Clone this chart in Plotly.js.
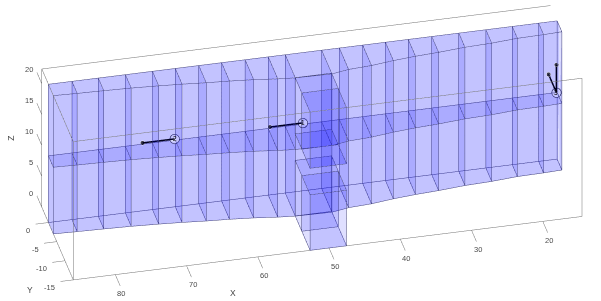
<!DOCTYPE html>
<html><head><meta charset="utf-8">
<script src="https://cdn.plot.ly/plotly-3.0.1.min.js"></script>
<style>html,body{margin:0;padding:0;background:#fff}#c{width:601px;height:301px}</style>
</head><body><div id="c"></div>
<script>
// Data
var stationX = [85.9,82.6,78.9,75.1,71.3,68.1,64.8,61.6,58.3,55.05,52.66,47.55,45.07,41.8,38.6,35.4,32.1,28.3,24.5,20.8,17.1,14.5];
var stationW = [2.97,3.15,3.3,3.5,3.8,4.1,4.5,4.8,5.2,5.75,6.05,6.2,5.6,5.34,4.79,4.4,4.14,3.7,3.5,3.1,3.0,2.85];
var zTop = 22.4, zPlate = 10.8;
var bumpX = [47.55,52.66], bumpY = [-6,-10,-15];
var bumpLowZ = [0,9], bumpHighZ = [13.3,22.4];
var xBox = [14.5,85.9], yBox = [-15,4], zBox = [0,22.4];
var xTicks = [20,30,40,50,60,70,80], yTicks = [-15,-10,-5,0], zTicks = [0,5,10,15,20];
var pt1 = {x:[54.8,50.2], y:[0,0], z:[11,11]};
var pt2 = {x:[72.7,68.2], y:[0,0], z:[11,11]};
var pt3a = {x:[14.6,14.6], y:[0,0], z:[15.3,10.8]};
var pt3b = {x:[15.7,14.6], y:[0,0], z:[13.9,10.8]};
var circleX = [50.2,68.2,14.6], circleZ = [11,11,10.8], circleLabels = ['1','2','3'];
var xTickLen=3, yTickLen=1.8, zTickLen=3;

var mx=[],my=[],mz=[],ii=[],jj=[],kk=[];
function quad(p){var n=mx.length;p.forEach(function(q){mx.push(-q[0]);my.push(q[1]);mz.push(q[2]);});
  ii.push(n,n);jj.push(n+1,n+2);kk.push(n+2,n+3);}
var ex=[],ey=[],ez=[];
function seg(a,b){ex.push(-a[0],-b[0],null);ey.push(a[1],b[1],null);ez.push(a[2],b[2],null);}
function rect(p){for(var i=0;i<4;i++)seg(p[i],p[(i+1)%4]);}
function face(p){quad(p);rect(p);}
var xa=stationX[0], xb=stationX[stationX.length-1];
quad([[xa,0,0],[xb,0,0],[xb,0,zTop],[xa,0,zTop]]);
seg([xa,0,0],[xb,0,0]);seg([xa,0,zTop],[xb,0,zTop]);seg([xa,0,zPlate],[xb,0,zPlate]);
stationX.forEach(function(x,i){
  var w=-stationW[i];
  face([[x,0,0],[x,w,0],[x,w,zTop],[x,0,zTop]]);
  seg([x,0,zPlate],[x,w,zPlate]);
  if(i<stationX.length-1){
    var x2=stationX[i+1],w2=-stationW[i+1];
    quad([[x,w,0],[x2,w2,0],[x2,w2,zTop],[x,w,zTop]]);
    quad([[x,0,0],[x2,0,0],[x2,w2,0],[x,w,0]]);
    quad([[x,0,zTop],[x2,0,zTop],[x2,w2,zTop],[x,w,zTop]]);
    quad([[x,0,zPlate],[x2,0,zPlate],[x2,w2,zPlate],[x,w,zPlate]]);
    seg([x,w,0],[x2,w2,0]);seg([x,w,zTop],[x2,w2,zTop]);seg([x,w,zPlate],[x2,w2,zPlate]);
  }
});
[bumpLowZ,bumpHighZ].forEach(function(zz){
  var xl=bumpX[0],xr=bumpX[1],y0=bumpY[0],y1=bumpY[1],y2=bumpY[2];
  face([[xl,y1,zz[0]],[xr,y1,zz[0]],[xr,y1,zz[1]],[xl,y1,zz[1]]]);
  face([[xl,y2,zz[0]],[xr,y2,zz[0]],[xr,y2,zz[1]],[xl,y2,zz[1]]]);
  [zz[0],zz[1]].forEach(function(z){
    face([[xl,y0,z],[xr,y0,z],[xr,y2,z],[xl,y2,z]]);
  });
  [xl,xr].forEach(function(x){rect([[x,y0,zz[0]],[x,y2,zz[0]],[x,y2,zz[1]],[x,y0,zz[1]]]);});
});
var X0=xBox[1],X1=xBox[0],Y0=yBox[0],Y1=yBox[1],Z1=zBox[1];
var boxLines=[
 [[X0,Y0,0],[X1,Y0,0]],[[X0,Y0,0],[X0,Y1,0]],[[X0,Y1,0],[X0,Y1,Z1]],[[X0,Y0,0],[X0,Y0,Z1]],[[X1,Y0,0],[X1,Y0,Z1]],
 [[X0,Y1,Z1],[X1,Y1,Z1]],[[X1,Y1,Z1],[X1,Y0,Z1]],[[X1,Y0,Z1],[X0,Y0,Z1]],[[X0,Y0,Z1],[X0,Y1,Z1]]];
var bx=[],by=[],bz=[];
boxLines.forEach(function(l){bx.push(-l[0][0],-l[1][0],null);by.push(l[0][1],l[1][1],null);bz.push(l[0][2],l[1][2],null);});
// tick marks through the same 3D scales
var tx=[],ty=[],tz=[];
xTicks.forEach(function(v){tx.push(-v,-v,null);ty.push(Y0,Y0-xTickLen,null);tz.push(0,0,null);});
yTicks.forEach(function(v){tx.push(-X0,-X0-yTickLen,null);ty.push(v,v,null);tz.push(0,0,null);});
zTicks.forEach(function(v){tx.push(-X0,-X0,null);ty.push(Y1,Y1+zTickLen,null);tz.push(v,v,null);});

var traces=[
 {type:'mesh3d',x:mx,y:my,z:mz,i:ii,j:jj,k:kk,color:'rgb(0,0,255)',opacity:0.125,flatshading:true,hoverinfo:'skip',
  lighting:{ambient:1,diffuse:0,specular:0,roughness:1,fresnel:0},showscale:false},
 {type:'scatter3d',mode:'lines',x:ex,y:ey,z:ez,line:{color:'rgb(60,60,120)',width:1},hoverinfo:'skip',showlegend:false},
 {type:'scatter3d',mode:'lines',x:bx,y:by,z:bz,line:{color:'rgb(115,115,115)',width:1},hoverinfo:'skip',showlegend:false},
 {type:'scatter3d',mode:'lines',x:tx,y:ty,z:tz,line:{color:'rgb(115,115,115)',width:1},hoverinfo:'skip',showlegend:false}
];
[pt1,pt2,pt3a,pt3b].forEach(function(p){
 traces.push({type:'scatter3d',mode:'lines+markers',x:p.x.map(function(v){return -v;}),y:p.y,z:p.z,
  line:{color:'#000',width:3},marker:{color:'#000',size:[5,0.1]},hoverinfo:'skip',showlegend:false});
});
traces.push({type:'scatter3d',mode:'markers',x:circleX.map(function(v){return -v;}),y:[0,0,0],z:circleZ,
  marker:{color:'#fff',size:5.5,line:{color:'#000',width:2}},hoverinfo:'skip',showlegend:false});

var cosT=0.8438, sinT=0.5367, cosP=-0.2263, sinP=-0.9741;
var k=0.0486, R=6, S=151;
var rightV=[-sinP,cosP,0], upV=[-sinT*cosP,-sinT*sinP,cosT];
var dir=[cosT*cosP,cosT*sinP,sinT];
var shiftX=5, shiftY=7;
var c={x:-(shiftX*rightV[0]+shiftY*upV[0])/S,y:-(shiftX*rightV[1]+shiftY*upV[1])/S,z:-(shiftX*rightV[2]+shiftY*upV[2])/S};
var gray='rgb(75,75,75)', fam='Liberation Sans';
var xRange=[-X0-yTickLen,-X1], yRange=[Y0-xTickLen,Y1+zTickLen], zRange=[0,Z1];
function axis(ticks,rng){return {range:rng,tickmode:'array',tickvals:ticks,showticklabels:false,showgrid:false,zeroline:false,showline:false,
 showbackground:false,showspikes:false,ticks:'',title:{text:''}};}
var ann=[];
function label(x,y,z,t,xa,xs,ys,sz,col,ang){ann.push({x:x,y:y,z:z,text:t,showarrow:false,xanchor:xa,yanchor:'middle',xshift:xs,yshift:ys,
 font:{family:fam,size:sz||7.5,color:col||gray},textangle:ang||0});}
xTicks.forEach(function(v){label(-v,Y0,0,String(v),'center',6,-19);});
yTicks.forEach(function(v){label(-X0,v,0,String(v),'right',-16,-8);});
zTicks.forEach(function(v){label(-X0,Y1,v,String(v),'right',-6.6,14);});
label(-65,Y0,0,'X','center',10.7,-32,8.5);
label(-X0,Y0,0,'Y','center',-43.3,-10,8.5);
label(-X0,Y1,10,'Z','center',-31.6,7,8.5,gray,-90);
circleLabels.forEach(function(t,i){label(-circleX[i],0,circleZ[i],t,'center',0,0,6.5,'#000');});
var layout={width:601,height:301,margin:{l:0,r:0,t:0,b:0},paper_bgcolor:'#fff',showlegend:false,
 scene:{domain:{x:[0,1],y:[0,1]},aspectmode:'manual',annotations:ann,
  aspectratio:{x:(xRange[1]-xRange[0])*k,y:(yRange[1]-yRange[0])*k,z:(zRange[1]-zRange[0])*k},
  camera:{projection:{type:'orthographic'},up:{x:0,y:0,z:1},center:c,eye:{x:c.x+R*dir[0],y:c.y+R*dir[1],z:c.z+R*dir[2]}},
  xaxis:axis(xTicks.map(function(v){return -v;}),xRange),
  yaxis:axis(yTicks,yRange),
  zaxis:axis(zTicks,zRange)
 }};
Plotly.newPlot('c',traces,layout,{displayModeBar:false});
</script></body></html>
